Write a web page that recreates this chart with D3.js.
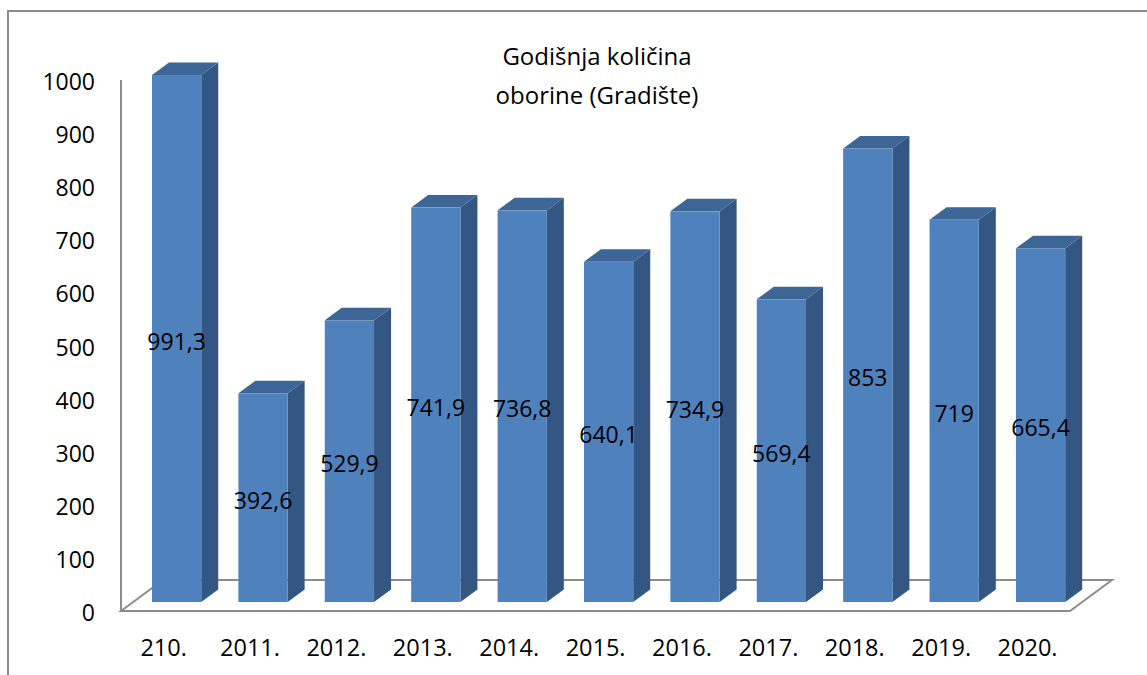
<!DOCTYPE html>
<html>
<head>
<meta charset="utf-8">
<script src="https://cdn.jsdelivr.net/npm/d3@7"></script>
<style>
  body { margin: 0; background: #fff; }
  text { font-family: "Open Sans", sans-serif; fill: #000; }
</style>
</head>
<body>
<svg id="chart" width="1147" height="675"></svg>
<script>
var years = ["210.", "2011.", "2012.", "2013.", "2014.", "2015.", "2016.", "2017.", "2018.", "2019.", "2020."]
var rainfall = [991.3, 392.6, 529.9, 741.9, 736.8, 640.1, 734.9, 569.4, 853, 719, 665.4]
var yTicks = [0, 100, 200, 300, 400, 500, 600, 700, 800, 900, 1000]
var titleLines = ["Godišnja količina", "oborine (Gradište)"]

function createBarChart3d(options) {
  var obj = new BarChart3d()
  obj.initialize(options)
  return obj
}

function BarChart3d() {
  this.initialize = function (options) {
    this.options = options
    this.svg = d3.select("#" + options.elementId)
    this.depth = { dx: 17, dy: -12.5 }
    this.floorDepth = { dx: 42, dy: -31 }
    this.x = d3.scaleBand().domain(years).range([130.4, 1086.8]).paddingInner(0.43).paddingOuter(0.25)
    this.yAxis = d3.scaleLinear().domain([0, 1000]).range([611, 80])
    this.yBar = d3.scaleLinear().domain([0, 1000]).range([602, 70.4])
    this.drawFrame()
    this.drawFloor()
    this.drawBars()
    this.drawLabels()
    this.drawTitle()
  }

  this.drawFrame = function () {
    this.svg.append("path")
      .attr("d", "M8,675 L8,11 L1147,11")
      .attr("fill", "none").attr("stroke", "#8c8c8c").attr("stroke-width", 2)
  }

  this.drawFloor = function () {
    var y0 = this.yAxis(0), l = 121, r = 1070, d = this.floorDepth
    var g = this.svg.append("g").attr("fill", "none").attr("stroke", "#8c8c8c").attr("stroke-width", 2)
    g.append("path").attr("d", `M${l},${y0} L${l + d.dx},${y0 + d.dy} L${r + d.dx},${y0 + d.dy} L${r},${y0} Z`)
    g.append("line").attr("x1", l).attr("x2", l).attr("y1", this.yAxis(1000)).attr("y2", y0)
  }

  this.drawBars = function () {
    var $this = this, bw = this.x.bandwidth(), d = this.depth
    var bars = this.svg.append("g").selectAll("g").data(rainfall).enter().append("g")
    var x0 = (v, i) => $this.x(years[i])
    bars.append("path")
      .attr("fill", "#335683")
      .attr("d", function (v, i) {
        var x = x0(v, i) + bw, top = $this.yBar(v), bot = $this.yBar(0)
        return `M${x},${bot} L${x},${top} L${x + d.dx},${top + d.dy} L${x + d.dx},${bot + d.dy} Z`
      })
    bars.append("path")
      .attr("fill", "#3d6595")
      .attr("d", function (v, i) {
        var x = x0(v, i), top = $this.yBar(v)
        return `M${x},${top} L${x + d.dx},${top + d.dy} L${x + bw + d.dx},${top + d.dy} L${x + bw},${top} Z`
      })
    bars.append("rect")
      .attr("fill", "#4f81bd")
      .attr("x", x0)
      .attr("y", v => $this.yBar(v))
      .attr("width", bw)
      .attr("height", v => $this.yBar(0) - $this.yBar(v))
  }

  this.drawLabels = function () {
    var $this = this, bw = this.x.bandwidth()
    this.svg.append("g").selectAll("text").data(yTicks).enter().append("text")
      .attr("x", 95).attr("y", v => $this.yAxis(v) + 1)
      .attr("text-anchor", "end").attr("dominant-baseline", "central")
      .style("font-size", "23px")
      .text(v => v)
    this.svg.append("g").selectAll("text").data(years).enter().append("text")
      .attr("x", c => $this.x(c) + bw / 2 - 13).attr("y", 647)
      .attr("text-anchor", "middle").attr("dominant-baseline", "central")
      .style("font-size", "23.5px")
      .text(c => c)
    var fmt = v => String(v).replace(".", ",")
    this.svg.append("g").selectAll("text").data(rainfall).enter().append("text")
      .attr("x", (v, i) => $this.x(years[i]) + bw / 2)
      .attr("y", v => ($this.yBar(v) + $this.yBar(0)) / 2 + 2)
      .attr("text-anchor", "middle").attr("dominant-baseline", "central")
      .style("font-size", "23px")
      .text(fmt)
  }

  this.drawTitle = function () {
    this.svg.append("g").selectAll("text").data(titleLines).enter().append("text")
      .attr("x", 597).attr("y", (t, i) => 55 + i * 39)
      .attr("text-anchor", "middle").attr("dominant-baseline", "central")
      .style("font-size", "24px")
      .text(t => t)
  }
}

createBarChart3d({ elementId: "chart" })
</script>
</body>
</html>
